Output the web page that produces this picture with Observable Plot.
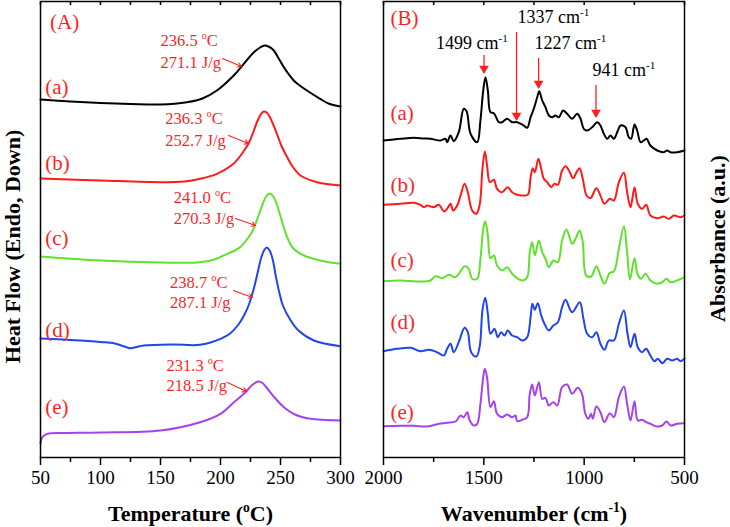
<!DOCTYPE html>
<html><head><meta charset="utf-8">
<script src="https://cdn.jsdelivr.net/npm/d3@7"></script>
<script src="https://cdn.jsdelivr.net/npm/@observablehq/plot@0.6"></script>
<style>
body{margin:0;background:#fff;}
#wrap{display:flex;width:730px;height:527px;overflow:hidden;background:#fff;}
#wrap svg{display:block;flex:none;}
</style></head><body><div id="wrap"></div>
<script>
// ---------- DATA: (A) DSC curves, [temperature °C, heat flow (a.u.)] ----------
const dscA = [[50,358],[75,356],[100,354.5],[125,353.5],[150,353],[172,355.3],[185,359],[197,367],[211,382],[219.4,393.7],[227.8,405.3],[233,410],[236.7,412],[240,411],[244.4,407],[248,400],[252.8,390.3],[257,383],[261,377],[266,372],[272,367],[283,358.7],[290,354],[300,351]];
const dscB = [[50,279],[100,277],[150,275.3],[170,276],[183,278.7],[197,283.7],[211,294],[218,304],[223.6,314.5],[227.5,326],[230.6,336],[233.5,343],[236,346],[238.5,345],[241.7,339],[247,323.7],[251,311],[255.6,300.3],[260,291],[266.7,282],[280.6,275.3],[300,272]];
const dscC = [[50,201],[100,197],[150,195],[180,195],[195,198],[205.6,203.7],[212,207],[217,211],[222,218],[226,225],[229,233],[232,243],[235,253],[238,261],[241,264],[244,261],[247,253],[250,241],[253,229],[256,219],[260,210],[266.7,203.7],[283,197],[300,193.7]];
const dscD = [[50,119],[75,117.5],[100,115.5],[112,114],[120,111],[125,109.3],[130,110.5],[136,112],[160,113],[183,112.7],[200,118.7],[208,124],[215,133],[220,143],[224,154],[228,170],[231,185],[234,200],[236.5,207.5],[238.7,210],[241,207],[243.5,198],[246,182],[249,165],[252,152],[258,138],[265,127],[277.8,117],[300,111.3]];
const dscE = [[50,14],[51,19],[53,22],[57,24],[70,24.5],[100,25],[150,27],[183,35.3],[200,43.7],[211,55],[220.8,65.3],[226,72],[231.3,76],[235,74.5],[239,69],[245,60],[252.8,50.3],[262,43],[275,38.7],[300,37]];
const peakTemps = ["236.5","236.3","241.0","238.7","231.3"];
const enthalpies = ["271.1","252.7","270.3","287.1","218.5"];
const sampleNames = ["(a)","(b)","(c)","(d)","(e)"];
const tempMajor = [50,100,150,200,250,300];
const tempMinor = [75,125,175,225,275];

// ---------- DATA: (B) FTIR spectra, [wavenumber cm-1, absorbance (a.u.)] ----------
const ftirA = [[2000,317],[1915,318.7],[1849,319.7],[1799,319],[1766,318.7],[1716,317],[1691,318.7],[1683,315.3],[1666,322],[1650,316.3],[1625,325.3],[1600,348.7],[1586,346.3],[1566,323.7],[1533,315.3],[1517,337],[1503,367],[1492,380.3],[1480,367],[1467,345.3],[1450,344.3],[1425,335.3],[1409,335.3],[1384,338.7],[1359,335.3],[1334,335.3],[1301,332],[1284,329.7],[1267,340.3],[1251,348.7],[1234,360.3],[1224,366.3],[1209,357],[1193,350.3],[1176,342],[1160,340.3],[1143,342],[1126,340.3],[1105,347],[1085,343.7],[1060,338.7],[1035,343.7],[1018,338.7],[1002,328.7],[985,327],[960,330.3],[935,335.3],[919,332],[902,323.7],[885,318.7],[869,322],[852,318.7],[832,327],[819,332],[794,330.3],[778,320.3],[766,318.7],[749,333],[736,327],[719,315.3],[703,317],[689,318.7],[670,312],[636,307],[603,305.3],[587,307],[570,305.3],[537,305.3],[500,307]];
const ftirB = [[2000,252.7],[1915,253.7],[1849,254.7],[1816,252.7],[1799,250.3],[1782,252],[1749,250.3],[1724,252.7],[1699,246],[1683,248.7],[1666,253.7],[1653,247],[1633,252],[1616,262],[1596,273.7],[1580,265.3],[1558,247],[1537,243.7],[1520,253.7],[1507,288.7],[1495,306],[1484,292],[1470,275.3],[1450,277.7],[1434,268.7],[1409,265.3],[1381,270.3],[1359,265.3],[1334,262.7],[1309,262],[1281,262.7],[1267,280.3],[1256,289.3],[1246,285.3],[1228,298.7],[1214,288.7],[1201,278.7],[1184,275.3],[1164,270.3],[1148,273.7],[1131,272.7],[1110,287],[1093,291.3],[1076,287],[1055,279.3],[1038,285.3],[1023,289.3],[1007,278.7],[988,262],[969,259.3],[939,269.3],[919,262],[899,253.7],[872,258.7],[852,257],[827,275.3],[802,284.7],[786,265.3],[769,250.3],[749,270.3],[733,253.7],[711,248.7],[691,252.7],[670,242],[636,239.3],[603,241],[578,238.7],[553,242],[520,240.3],[500,242]];
const ftirC = [[2000,176.3],[1915,177],[1832,176],[1766,177],[1741,181.3],[1708,179.3],[1674,182.7],[1641,180.3],[1595,191.3],[1575,188.7],[1558,178.7],[1533,178.7],[1517,198.7],[1503,228.7],[1493,236.3],[1480,222],[1467,199.3],[1450,202],[1434,192],[1409,187],[1384,190.3],[1359,183.7],[1334,179.3],[1309,177],[1284,180.3],[1271,205.3],[1259,215.3],[1246,202],[1226,217],[1209,205.3],[1193,198.7],[1176,190.3],[1154,197],[1131,195.3],[1110,217],[1088,228],[1060,213.7],[1043,218.7],[1023,227],[1007,215.3],[990,182],[965,181],[939,191.3],[919,182],[899,173.7],[872,184.7],[852,186],[827,208.7],[802,231.3],[786,205.3],[772,178],[749,199.3],[733,182.7],[716,178.7],[694,183.7],[670,177],[636,173.7],[611,175.3],[589,178.7],[570,175.3],[537,177],[500,180.3]];
const ftirD = [[2000,106.3],[1932,108.7],[1865,109.7],[1816,106.3],[1774,107.7],[1733,105.3],[1699,102],[1683,108.7],[1666,113.7],[1650,105.3],[1625,115.3],[1596,129.7],[1580,125.3],[1563,105.3],[1537,101],[1520,112],[1507,147],[1493,159.7],[1480,143.7],[1467,123.7],[1447,128.7],[1430,120.3],[1414,125.3],[1397,122],[1381,127],[1359,122],[1334,120.3],[1309,117],[1284,120.3],[1267,140.3],[1258,153.7],[1246,147.7],[1231,154.3],[1214,142],[1198,133.7],[1176,127],[1154,132],[1131,135.3],[1110,150.3],[1093,157.7],[1060,145.3],[1022,155.3],[1005,140.3],[985,123.7],[960,120.3],[939,125.3],[919,113.7],[899,107.7],[877,117],[852,117],[827,133.7],[802,147],[784,123.7],[769,110.3],[749,123.7],[733,110.3],[711,105.3],[691,108.7],[670,102],[650,96.3],[633,98.7],[611,94.3],[586,98.7],[561,97],[537,98.7],[520,96.3],[500,98.7]];
const ftirE = [[2000,31.3],[1915,31.7],[1849,31.7],[1782,31],[1724,33.7],[1683,34.7],[1641,36],[1616,42],[1600,40.3],[1583,45.3],[1570,37],[1550,32],[1533,33.7],[1517,53.7],[1503,80.3],[1495,88.7],[1484,80.3],[1467,50.3],[1450,56.3],[1434,43.7],[1409,40.3],[1384,43],[1359,40.3],[1342,42],[1334,36.3],[1309,37.7],[1284,40.3],[1271,63.7],[1259,73],[1246,62],[1226,75.3],[1209,58.7],[1193,59.7],[1176,52],[1154,55.3],[1134,52],[1110,70.3],[1085,73],[1060,63.7],[1032,69.7],[1011,63.7],[994,43.7],[978,38.7],[966,43.7],[957,38.7],[939,51],[919,45.3],[899,35.3],[872,44.3],[852,40.3],[827,60.3],[802,71],[786,53.7],[769,37],[749,56.3],[733,37],[711,37.7],[691,35.3],[670,33.7],[636,31],[611,32],[589,36],[570,32],[537,33.7],[500,34.3]];
const bandWavenumbers = [1499,1337,1227,941];
const waveMajor = [2000,1500,1000,500];
const waveMinor = [1750,1250,750];

// ---------- LAYOUT (annotation placement, in data units) ----------
const leftLabelY = [370,294,219,127,50];
const noteLayout = [
  {tx:150, y1:417, y2:395, x1:201.7, ya:399, x2:217.5, yb:391},
  {tx:154, y1:339, y2:317, x1:206.7, ya:322, x2:223.3, yb:314},
  {tx:161, y1:260, y2:239, x1:212.5, ya:239, x2:229.2, yb:232},
  {tx:158, y1:175, y2:155, x1:210.8, ya:167, x2:226.7, yb:160},
  {tx:155, y1:92,  y2:72,  x1:205.8, ya:75,  x2:221.7, yb:66}
];
const rightLabelY = [344,272,197,135,45];
const bandLayout = [
  {lx:1559, ly:414, top:402, tip:384},
  {lx:1153, ly:440, top:425, tip:337},
  {lx:1068, ly:414, top:399, tip:369},
  {lx:802,  ly:387, top:372, tip:340}
];

const SERIF = "'Liberation Serif','Times New Roman',Times,serif";
const RED = "#ff1f1f";
const COLORS = ["#000000","#ff1a1a","#5fe22c","#2145ea","#a542ee"];

const rows = (pairs, k) => pairs.map(([x, y]) => ({x, y, k}));
const dscRows = [dscA,dscB,dscC,dscD,dscE].flatMap((p,i) => rows(p,i));
const ftirRows = [ftirA,ftirB,ftirC,ftirD,ftirE].flatMap((p,i) => rows(p,i));

const baseStyle = {fontFamily: SERIF, fontSize: "19px", color: "#000", background: "transparent", overflow: "visible"};

// ---------- (A) DSC ----------
const notes = noteLayout.map((l, i) => ({...l, t: peakTemps[i], h: enthalpies[i]}));
const left = Plot.plot({
  width: 360, height: 527, marginLeft: 40, marginRight: 20, marginTop: 1, marginBottom: 70,
  style: baseStyle,
  x: {domain: [50, 300]},
  y: {domain: [0, 456], axis: null},
  color: {type: "ordinal", domain: [0,1,2,3,4], range: COLORS},
  marks: [
    Plot.axisX({ticks: tempMajor, tickSize: 8, tickPadding: 5, label: null, strokeWidth: 1.5, fontSize: 19}),
    Plot.axisX({ticks: tempMinor, tickSize: 5, tickFormat: () => "", label: null, strokeWidth: 1.5}),
    Plot.ruleX(tempMajor.concat(tempMinor), {insetBottom: 452, strokeWidth: 1.5}),
    Plot.line(dscRows, {x: "x", y: "y", z: "k", stroke: "k", strokeWidth: 2, curve: "catmull-rom"}),
    Plot.frame({strokeWidth: 1.5}),
    Plot.text(["(A)"], {x: 58, y: 435, text: d => d, fill: RED, fontSize: 21, textAnchor: "start"}),
    Plot.text(sampleNames, {x: 54, y: (d, i) => leftLabelY[i], text: d => d, fill: RED, fontSize: 21, textAnchor: "start"}),
    Plot.text(notes, {x: "tx", y: "y1", text: d => `${d.t} {o}C`, fill: RED, fontSize: 16.5, textAnchor: "start"}),
    Plot.text(notes, {x: "tx", y: "y2", text: d => `${d.h} J/g`, fill: RED, fontSize: 16.5, textAnchor: "start"}),
    Plot.arrow(notes, {x1: "x1", y1: "ya", x2: "x2", y2: "yb", stroke: RED, strokeWidth: 1.1, headLength: 6}),
    Plot.text(["Temperature ({o}C)"], {frameAnchor: "bottom", dy: 56, text: d => d, fontSize: 22, fontWeight: "bold", textAnchor: "middle", lineAnchor: "middle"}),
    Plot.text(["Heat Flow (Endo, Down)"], {frameAnchor: "left", dx: -28, dy: 17, rotate: -90, text: d => d, fontSize: 22, fontWeight: "bold", textAnchor: "middle", lineAnchor: "middle"})
  ]
});

// ---------- (B) FTIR ----------
const bands = bandLayout.map((l, i) => ({...l, w: bandWavenumbers[i]}));
const right = Plot.plot({
  width: 370, height: 527, marginLeft: 23, marginRight: 46, marginTop: 1, marginBottom: 70,
  style: baseStyle,
  x: {domain: [2000, 500]},
  y: {domain: [0, 456], axis: null},
  color: {type: "ordinal", domain: [0,1,2,3,4], range: COLORS},
  marks: [
    Plot.axisX({ticks: waveMajor, tickSize: 8, tickPadding: 5, tickFormat: d => String(d), label: null, strokeWidth: 1.5, fontSize: 19}),
    Plot.axisX({ticks: waveMinor, tickSize: 5, tickFormat: () => "", label: null, strokeWidth: 1.5}),
    Plot.ruleX(waveMajor.concat(waveMinor), {insetBottom: 452, strokeWidth: 1.5}),
    Plot.line(ftirRows, {x: "x", y: "y", z: "k", stroke: "k", strokeWidth: 2, curve: "catmull-rom"}),
    Plot.frame({strokeWidth: 1.5}),
    Plot.text(["(B)"], {x: 1965, y: 439, text: d => d, fill: RED, fontSize: 21, textAnchor: "start"}),
    Plot.text(sampleNames, {x: 1965, y: (d, i) => rightLabelY[i], text: d => d, fill: RED, fontSize: 21, textAnchor: "start"}),
    Plot.text(bands, {x: "lx", y: "ly", text: d => `${d.w} cm{-1}`, fill: "#000", fontSize: 18, textAnchor: "middle"}),
    Plot.ruleX(bands, {x: "w", y1: "top", y2: "tip", stroke: RED, strokeWidth: 1.3}),
    Plot.dot(bands, {x: "w", y: "tip", symbol: "triangle", r: 3.6, fill: RED, stroke: null, rotate: 180, dy: -5}),
    Plot.text(["Wavenumber (cm{-1})"], {frameAnchor: "bottom", dy: 56, text: d => d, fontSize: 22, fontWeight: "bold", textAnchor: "middle", lineAnchor: "middle"}),
    Plot.text(["Absorbance (a.u.)"], {frameAnchor: "right", dx: 33, dy: 9, rotate: -90, text: d => d, fontSize: 22, fontWeight: "bold", textAnchor: "middle", lineAnchor: "middle"})
  ]
});

const wrap = document.getElementById("wrap");
wrap.appendChild(left);
wrap.appendChild(right);

// superscripts: "{...}" becomes a raised, smaller tspan
function applySup(svg) {
  svg.querySelectorAll("text").forEach(t => {
    if (t.querySelector("tspan")) return;
    const s = t.textContent;
    if (!/\{[^}]*\}/.test(s)) return;
    const fs = parseFloat(getComputedStyle(t).fontSize) || 16;
    const shift = fs * 0.4;
    t.textContent = "";
    let raised = false;
    for (const part of s.split(/(\{[^}]*\})/)) {
      if (!part) continue;
      const sp = document.createElementNS("http://www.w3.org/2000/svg", "tspan");
      if (part[0] === "{") {
        sp.textContent = part.slice(1, -1);
        sp.setAttribute("font-size", (fs * 0.62).toFixed(1));
        sp.setAttribute("dy", (-shift).toFixed(1));
        raised = true;
      } else {
        sp.textContent = part;
        if (raised) { sp.setAttribute("dy", shift.toFixed(1)); raised = false; }
      }
      t.appendChild(sp);
    }
  });
}
applySup(left);
applySup(right);
</script></body></html>
